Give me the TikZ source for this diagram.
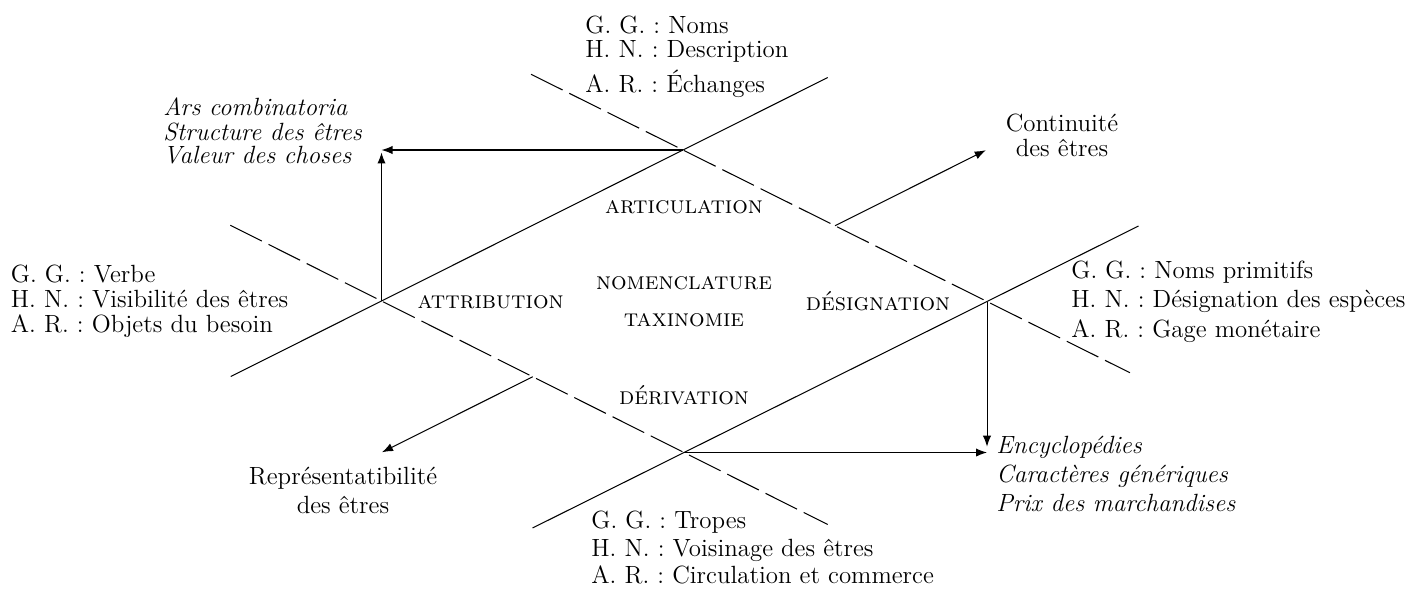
\documentclass[tikz,border=0pt]{standalone}
\usetikzlibrary{arrows.meta,calc}
\lineskiplimit=-100pt
\frenchspacing
\begin{document}
\frenchspacing
\begin{tikzpicture}[x=0.4818pt,y=-0.4818pt,
  txt/.style={inner sep=0pt, font=\fontsize{12pt}{12pt}\selectfont},
  blk/.style={txt, align=left, anchor=base west},
  ctr/.style={txt, align=center, anchor=base},
  sclabel/.style={inner sep=0pt, anchor=base, font=\fontsize{11.8pt}{12pt}\selectfont\scshape},
  solidline/.style={line width=0.5pt},
  dashline/.style={line width=0.5pt, dash pattern=on 17pt off 3.6pt},
  arr/.style={line width=0.5pt, -{Latex[length=5.3pt,width=4pt]}}]
\useasboundingbox (0,0) rectangle (1410,588);
% intersections
\coordinate (L) at (381.5,301);
\coordinate (T) at (683,150);
\coordinate (R) at (987,301.5);
\coordinate (B) at (684,452.5);
% line ends
\coordinate (a1) at ($(L)!-0.5!(T)$);
\coordinate (a2) at ($(T)!-0.48!(L)$);
\coordinate (d1) at ($(L)!-0.5!(B)$);
\coordinate (d2) at ($(B)!-0.475!(L)$);
\coordinate (c1) at ($(T)!-0.5!(R)$);
\coordinate (c2) at ($(R)!-0.47!(T)$);
\coordinate (b1) at ($(B)!-0.5!(R)$);
\coordinate (b2) at ($(R)!-0.5!(B)$);
% corners and arrow ends
\coordinate (TL) at (L |- T);
\coordinate (BR) at (R |- B);
\coordinate (cs) at ($(T)!0.5!(R)$);
\coordinate (ct) at ($(cs)+0.5*(T)-0.5*(L)$);
\coordinate (ds) at ($(L)!0.5!(B)$);
\coordinate (dt) at ($(ds)+0.5*(L)-0.5*(T)$);
% lines
\draw[solidline] (a1) -- (a2);
\draw[solidline] (b1) -- (b2);
\draw[dashline] (c1) -- (c2);
\draw[dashline] (d1) -- (d2);
% arrows
\draw[arr] (T) -- (TL);
\draw[arr, shorten >=1.2pt] (L) -- (TL);
\draw[arr] (B) -- (BR);
\draw[arr, shorten >=2.8pt] (R) -- (BR);
\draw[arr] (cs) -- (ct);
\draw[arr] (ds) -- (dt);
% labels (base = baseline of the last line)
\node[blk] (top) at (585,92) {G. G. : Noms\\H. N. : Description\\[4.4pt]A. R. : Échanges};
\node[blk] (left) at (10.5,332) {G. G. : Verbe\\H. N. : Visibilité des êtres\\A. R. : Objets du besoin};
\node[blk] (right) at (1071,337) {G. G. : Noms primitifs\\[2pt]H. N. : Désignation des espèces\\[2.4pt]A. R. : Gage monétaire};
\node[blk] (bottom) at (591,583) {G. G. : Tropes\\[1.5pt]H. N. : Voisinage des êtres\\[1pt]A. R. : Circulation et commerce};
\node[blk, font=\fontsize{12pt}{12pt}\selectfont\itshape] (ars) at (163,163) {Ars combinatoria\\Structure des êtres\\[-1pt]Valeur des choses};
\node[blk, font=\fontsize{12pt}{12pt}\selectfont\itshape] (ency) at (996,511) {Encyclopédies\\[2.4pt]Caractères génériques\\[1.5pt]Prix des marchandises};
\node[ctr] (cont) at (1062,156) {Continuité\\des êtres};
\node[ctr] (repr) at (343,513) {Représentatibilité\\[1.5pt]des êtres};
\node[sclabel] (artic) at (684,213) {articulation};
\node[sclabel] (nomen) at (684,289) {nomenclature};
\node[sclabel] (taxi) at (684,326) {taxinomie};
\node[sclabel] (attr) at (490.6,308) {attribution};
\node[sclabel] (deri) at (684,404) {dérivation};
\node[sclabel] (desi) at (878,310) {désignation};
\end{tikzpicture}
\end{document}
